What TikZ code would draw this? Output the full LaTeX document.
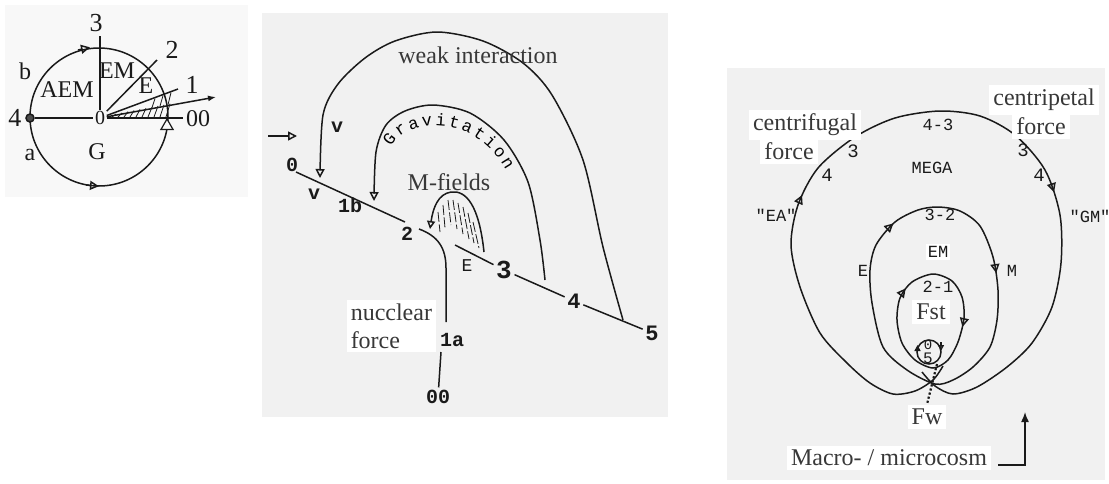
\documentclass[tikz,border=0pt]{standalone}
\usepackage{fontspec}
\setmainfont{Liberation Serif}
\setmonofont{Liberation Mono}
\usetikzlibrary{arrows.meta, positioning, decorations.markings, decorations.text, shapes.geometric}
\definecolor{paper}{HTML}{F1F1F1}
\definecolor{ink}{HTML}{1A1A1A}
\definecolor{softink}{HTML}{383838}

\begin{document}
\begin{tikzpicture}[
  x=0.5pt, y=-0.5pt,
  line width=0.75pt, color=ink,
  panel/.style={fill=paper, draw=none},
  serif/.style={font=\fontsize{12}{14}\selectfont, text=softink, inner sep=1pt},
  lblbox/.style={serif, fill=white, inner sep=2pt},
  digit/.style={font=\fontsize{13}{13}\selectfont, inner sep=1pt},
  tt/.style={font=\ttfamily\fontsize{8.5}{9}\selectfont, inner sep=1pt},
  ttb/.style={font=\ttfamily\bfseries\fontsize{10}{10}\selectfont, inner sep=1pt},
  tri/.style={-{Triangle[open, length=4.5pt, width=4.5pt]}},
  trismall/.style={-{Triangle[open, length=3pt, width=3pt]}},
  twoarr/.style 2 args={postaction={decorate}, decoration={markings,
      mark=at position #1 with {\arrow{Triangle[open, length=4.5pt, width=4.5pt]}},
      mark=at position #2 with {\arrow{Triangle[open, length=4.5pt, width=4.5pt]}}}},
  hatch/.style={line width=0.4pt}
]
\useasboundingbox (0,0) rectangle (1109,483);

% ================= panels =================
\fill[paper!50!white] (5,5) rectangle (248,197);
\path[panel] (262,13) rectangle (668,417);
\path[panel] (727,68) rectangle (1105,480);

% ================= LEFT: circle =================
\node[font=\fontsize{10}{10}\selectfont, inner sep=0.5pt] (o0) at (100,118) {0};
\draw (99,117) circle[radius=34.5pt];
\node[circle, draw, fill=black!70, inner sep=0pt, minimum size=4pt] (dot4) at (30,118) {};
\node[draw, fill=paper!50!white, regular polygon, regular polygon sides=3, inner sep=0pt,
      minimum size=7pt, line width=0.6pt] (tri00) at (167,126) {};

\coordinate (top3) at (100,36);
\coordinate (end2) at (157,60);
\coordinate (end1) at (178,89);
\coordinate (tip1) at (216,97);
\coordinate (end00) at (183,118);
\draw (o0) -- (top3);
\draw (o0) -- (end2);
\draw (o0) -- (end1);
\draw[-{Latex[length=4pt, width=3pt]}] (o0) -- (tip1);
\draw (dot4) -- (o0);
\draw (o0) -- (end00);

% arrows on the circle
\coordinate (cT0) at (78,50);  \coordinate (cT1) at (90,47.3);
\coordinate (cB0) at (86,185); \coordinate (cB1) at (99,186.2);
\draw[tri] (cT0) -- (cT1);
\draw[tri] (cB0) -- (cB1);

% hatching in the wedge
\foreach \x in {112,118,...,166} {\draw[hatch] (\x,117) -- ({\x+4},{117-0.19*(\x-96)});}
\foreach \x in {152,160,168} {\draw[hatch] (\x,{117-0.181*(\x-100)}) -- ({\x+3},{119-0.372*(\x+3-100)});}

\node[digit] (l3) at (96,23) {3};
\node[digit] (l2) at (172,50) {2};
\node[digit] (l1) at (192,85) {1};
\node[digit] (l4) at (15,118) {4};
\node[serif, text=ink] (l00) at (198,119) {00};
\node[serif, text=ink] (lb) at (25,71) {b};
\node[serif, text=ink] (la) at (30,155) {a};
\node[serif, text=ink] (lAEM) at (67,90) {AEM};
\node[serif, text=ink] (lEM) at (117,71) {EM};
\node[serif, text=ink] (lE) at (146,86) {E};
\node[serif, text=ink] (lG) at (97,152) {G};

% ================= MIDDLE: interactions =================
\coordinate (inA) at (268,136);
\coordinate (inB) at (297,136);
\draw[tri] (inA) -- (inB);

\node[ttb] (m0) at (292,165) {0};
\node[ttb] (mv) at (314,194) {v};
\node[ttb] (mv2) at (337,127) {v};
\node[ttb] (m1b) at (350,205) {1b};
\node[ttb] (m2) at (407,234) {2};
\node[tt, font=\ttfamily\fontsize{9}{9}\selectfont] (mE) at (467,266) {E};
\node[ttb, font=\ttfamily\bfseries\fontsize{13}{13}\selectfont] (m3) at (504,270) {3};
\node[ttb, font=\ttfamily\bfseries\fontsize{11}{11}\selectfont] (m4) at (574,301) {4};
\node[ttb, font=\ttfamily\bfseries\fontsize{11}{11}\selectfont] (m5) at (652,333) {5};
\node[ttb] (m1a) at (452,340) {1a};
\node[ttb] (m00) at (438,397) {00};

% the oblique axis
\coordinate (ln0) at (296,172);
\coordinate (ln1) at (405,222);
\coordinate (ln2) at (455,245);
\draw (ln0) -- (ln1);
\draw (ln2) -- (m3);
\draw (m3) -- (m4);
\draw (m4) -- (m5);

% weak interaction and gravitation arcs
\draw[tri] plot[smooth] coordinates {(623,320) (603,247) (583,160) (552,95) (523,63)
  (483,41) (437,32) (395,41) (365,58) (338,84) (323,115) (320,178)};
\draw[tri] plot[smooth] coordinates {(545,280) (540,240) (528,182) (504,140) (470,113)
  (433,105) (405,111) (386,125) (376,152) (374,201)};
\path[decorate, decoration={text along path, text align={fit to path},
      text={|\ttfamily\fontsize{8.5}{9}\selectfont|Gravitation}}]
  (391,147) .. controls (408,116) and (475,114) .. (506,170);

\node[serif] (wk) at (478,55) {weak interaction};
\node[serif] (mf) at (449,182) {M-fields};
\node[lblbox, align=left, anchor=west] (nf) at (346,326) {nucclear\\force};

% M-fields dome
\coordinate (mfA) at (484,252);
\draw[-{Triangle[open, length=4pt, width=4pt]}] (mfA) .. controls (479,205) and (466,190) .. (451,192)
  .. controls (438,194) and (433,208) .. (430,229);
\foreach \a/\b/\c/\d in {438/212/440/232, 443/205/445/228, 448/200/451/225, 453/200/457/229,
    458/203/463/234, 463/207/469/239, 468/213/474/243, 473/222/479/248}
  {\draw[hatch, dash pattern=on 5pt off 1.2pt] (\a,\b) -- (\c,\d);}

% nuclear force
\coordinate (nc0) at (419,229);
\coordinate (nc1) at (446,322);
\coordinate (nc2) at (441,352);
\draw (nc0) .. controls (438,236) and (446,248) .. (446,268) -- (nc1);
\draw (nc2) -- (m00);

% ================= RIGHT: macro- / microcosm =================
\draw[twoarr={0.33}{0.68}] plot[smooth] coordinates {(943,366) (933,380) (915,391) (893,394)
  (870,383) (847,363) (820,333) (800,287) (791,245) (798,205) (818,168) (855,137) (895,118)
  (940,111) (980,116) (1015,135) (1045,170) (1060,215) (1061,263) (1052,307) (1032,343)
  (1007,367) (977,387) (953,394) (935,386) (922,372)};
\draw[twoarr={0.34}{0.64}] plot[smooth cycle] coordinates {(935,384) (907,370) (883,347)
  (872,303) (870,270) (876,245) (895,222) (918,210) (938,207) (960,211) (980,226) (993,257)
  (998,290) (997,320) (990,347) (973,367) (953,380)};
\draw[twoarr={0.31}{0.71}] plot[smooth cycle] coordinates {(933,368) (915,360) (902,343)
  (897,320) (900,298) (912,282) (933,274) (952,281) (962,297) (964,318) (958,342) (948,360)};

\node[circle, draw, minimum size=12pt, inner sep=0pt] (c05) at (929,352) {};
\node[tt, font=\ttfamily\fontsize{7}{7}\selectfont] (c0) at (928,345) {0};
\node[tt, font=\ttfamily\fontsize{8}{8}\selectfont] (c5) at (928,358) {5};
\coordinate (cL0) at (917.5,354); \coordinate (cL1) at (917.5,345);
\coordinate (cR0) at (941,342);   \coordinate (cR1) at (941,351);
\draw[trismall] (cL0) -- (cL1);
\draw[trismall] (cR0) -- (cR1);

\node[lblbox] (cf1) at (805,125) {centrifugal};
\node[lblbox] (cf2) at (789,151) {force};
\node[lblbox] (cp1) at (1044,100) {centripetal};
\node[lblbox] (cp2) at (1041,126) {force};

\node[tt] (r43) at (938,125) {4-3};
\node[tt, font=\ttfamily\fontsize{9.5}{9.5}\selectfont] (rl3) at (853,151) {3};
\node[tt, font=\ttfamily\fontsize{9.5}{9.5}\selectfont] (rl4) at (827,175) {4};
\node[tt, font=\ttfamily\fontsize{9.5}{9.5}\selectfont] (rr3) at (1023,150) {3};
\node[tt, font=\ttfamily\fontsize{9.5}{9.5}\selectfont] (rr4) at (1039,175) {4};
\node[tt] (rMEGA) at (932,168) {MEGA};
\node[tt] (rEA) at (776,215) {"EA"};
\node[tt] (rGM) at (1090,216) {"GM"};
\node[tt] (r32) at (940,215) {3-2};
\node[tt, fill=white] (rEM) at (938,252) {EM};
\node[tt] (rE) at (863,271) {E};
\node[tt] (rM) at (1012,271) {M};
\node[tt] (r21) at (938,287) {2-1};
\node[lblbox] (rFst) at (931,312) {Fst};
\node[lblbox] (rFw) at (927,417) {Fw};
\node[lblbox] (mm) at (889,458) {Macro- / microcosm};

\coordinate (fw0) at (937,364);
\draw[densely dotted, line width=1.1pt] (fw0) -- (rFw.north);

\coordinate (mmA) at (998,465);
\coordinate (mmB) at (1025,465);
\coordinate (mmC) at (1025,412);
\draw[-{Latex[length=5pt, width=4pt]}] (mmA) -- (mmB) -- (mmC);

\end{tikzpicture}
\end{document}
